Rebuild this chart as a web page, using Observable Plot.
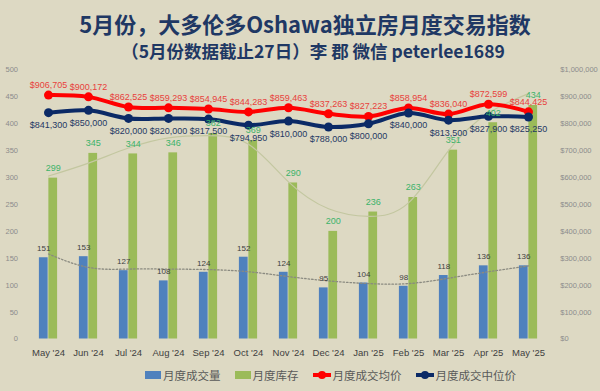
<!DOCTYPE html>
<html>
<head>
<meta charset="utf-8">
<script src="https://cdn.jsdelivr.net/npm/d3@7"></script>
<script src="https://cdn.jsdelivr.net/npm/@observablehq/plot@0.6"></script>
<style>
  html, body { margin: 0; padding: 0; }
  body { width: 600px; height: 391px; background: #ddd9c3; position: relative; overflow: hidden; font-family: "Noto Sans CJK SC", "Liberation Sans", sans-serif; }
  #title { position: absolute; left: 5px; width: 600px; top: 9px; text-align: center; font-weight: bold; font-size: 22px; color: #1f3864; line-height: 28px; white-space: nowrap; }
  #subtitle { position: absolute; left: 13px; width: 600px; top: 40px; text-align: center; font-weight: bold; font-size: 17.5px; color: #1f3864; line-height: 22px; white-space: nowrap; }
  #chart { position: absolute; left: 0; top: 60px; }
  #legend { position: absolute; left: 145px; top: 365px; height: 20px; display: flex; align-items: center; font-size: 11.5px; color: #595959; white-space: nowrap; }
  .item { display: flex; align-items: center; margin-right: 14px; }
  .sq { width: 16px; height: 8px; margin-right: 2px; }
  .ln { position: relative; width: 18px; height: 4px; margin-right: 2px; }
  .ln span { position: absolute; left: 5px; top: -2.5px; width: 8px; height: 8px; border-radius: 50%; }
</style>
</head>
<body>
<div id="title">5月份，大多伦多Oshawa独立房月度交易指数</div>
<div id="subtitle">（5月份数据截止27日）李 郡 微信 peterlee1689</div>
<div id="chart"></div>
<div id="legend"></div>
<script>
const months = ["May '24","Jun '24","Jul '24","Aug '24","Sep '24","Oct '24","Nov '24","Dec '24","Jan '25","Feb '25","Mar '25","Apr '25","May '25"];
const volume = [151,153,127,108,124,152,124,95,104,98,118,136,136];
const inventory = [299,345,344,346,382,369,290,200,236,263,351,402,434];
const avgPrice = [906705,900172,862525,859293,854945,844283,859463,837263,827223,858954,836040,872599,844425];
const medianPrice = [841300,850000,820000,820000,817500,794950,810000,788000,800000,840000,813500,827900,825250];
// trendlines (in left-axis units)
const volumeTrend = [158,133,130,130,129,125,116,108,103,103,113,125,136];
const inventoryTrend = [303,327,355,374,378,362,292,242,228,253,350,420,456];
const leftTicks = [0,50,100,150,200,250,300,350,400,450,500];
const rightTicks = [0,100000,200000,300000,400000,500000,600000,700000,800000,900000,1000000];
const legendItems = ["月度成交量","月度库存","月度成交均价","月度成交中位价"];

const C = {vol: "#4f81bd", inv: "#9bbb59", avg: "#ff0000", med: "#0b2a66"};
const ratio = 2000; // right axis $ per left unit

const rows = months.map((m, i) => ({
  month: m, volume: volume[i], inventory: inventory[i],
  avg: avgPrice[i], med: medianPrice[i],
  vt: volumeTrend[i], it: inventoryTrend[i]
}));
const money = d3.format(",");
const font = "Liberation Sans, Arial, sans-serif";

const chart = Plot.plot({
  width: 600,
  height: 305,
  marginTop: 9.5,
  marginBottom: 26.5,
  marginLeft: 23.5,
  marginRight: 46.75,
  style: {background: "transparent", fontFamily: font},
  x: {domain: months, padding: 0},
  y: {domain: [0, 500]},
  marks: [
    Plot.axisY({anchor: "left", ticks: leftTicks, tickSize: 0, tickPadding: 6, label: null, fontSize: 7.5, color: "#8c8c8c"}),
    Plot.axisY({anchor: "right", ticks: rightTicks.map(v => v / ratio), tickSize: 0, tickPadding: 6.5, label: null, fontSize: 7.5, color: "#8c8c8c", tickFormat: d => "$" + money(d * ratio)}),
    Plot.axisX({tickSize: 0, tickPadding: 10, label: null, fontSize: 9.5, color: "#404040"}),
    Plot.barY(rows, {x: "month", y: "volume", fill: C.vol, insetLeft: 10.9, insetRight: 20.375}),
    Plot.barY(rows, {x: "month", y: "inventory", fill: C.inv, insetLeft: 20.375, insetRight: 10.9}),
    Plot.line(rows, {x: "month", y: "it", stroke: "#c3c7a0", strokeWidth: 1.2, curve: "natural"}),
    Plot.line(rows, {x: "month", y: "vt", stroke: "#8a8a80", strokeWidth: 1.3, strokeDasharray: "1.5,2", curve: "natural"}),
    Plot.line(rows, {x: "month", y: d => d.avg / ratio, stroke: C.avg, strokeWidth: 4, curve: "catmull-rom"}),
    Plot.dot(rows, {x: "month", y: d => d.avg / ratio, fill: C.avg, r: 4.5}),
    Plot.line(rows, {x: "month", y: d => d.med / ratio, stroke: C.med, strokeWidth: 4, curve: "catmull-rom"}),
    Plot.dot(rows, {x: "month", y: d => d.med / ratio, fill: C.med, r: 4.5}),
    Plot.text(rows, {x: "month", y: "volume", text: d => String(d.volume), dy: -9, dx: -4.75, fill: "#404040", fontSize: 8}),
    Plot.text(rows, {x: "month", y: "inventory", text: d => String(d.inventory), dy: -10, dx: 4.75, fill: "#3cb36a", fontSize: 9}),
    Plot.text(rows, {x: "month", y: d => d.avg / ratio, text: d => "$" + money(d.avg), dy: -10, fill: "#e8413c", fontSize: 9}),
    Plot.text(rows, {x: "month", y: d => d.med / ratio, text: d => "$" + money(d.med), dy: 12.5, fill: "#1f3864", fontSize: 9})
  ]
});
document.getElementById("chart").appendChild(chart);

const colors = [C.vol, C.inv, C.avg, C.med];
const legend = document.getElementById("legend");
legendItems.forEach((name, i) => {
  const it = document.createElement("div");
  it.className = "item";
  const sw = document.createElement("div");
  if (i < 2) {
    sw.className = "sq";
    sw.style.background = colors[i];
  } else {
    sw.className = "ln";
    sw.style.background = colors[i];
    const dot = document.createElement("span");
    dot.style.background = colors[i];
    sw.appendChild(dot);
  }
  it.appendChild(sw);
  const t = document.createElement("span");
  t.textContent = name;
  it.appendChild(t);
  legend.appendChild(it);
});
</script>
</body>
</html>
